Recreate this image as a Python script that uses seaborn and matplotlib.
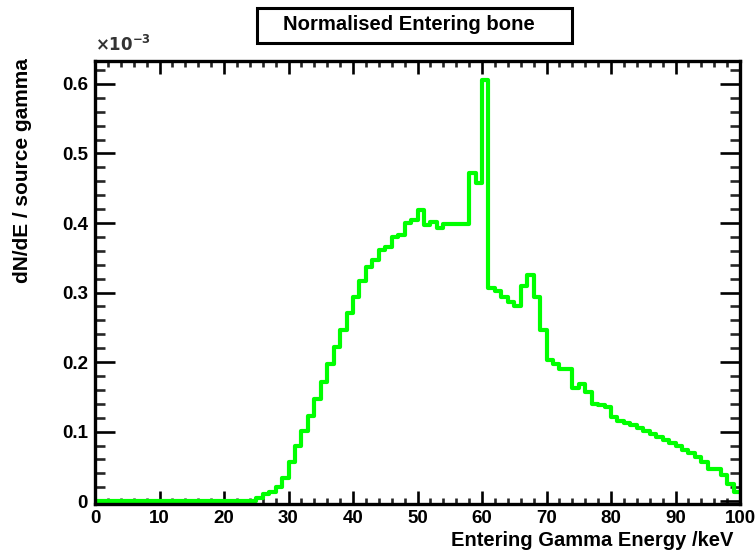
import numpy as np
import matplotlib
matplotlib.use("Agg")
import matplotlib.pyplot as plt
from matplotlib.patches import Rectangle
from matplotlib.ticker import MultipleLocator
import seaborn as sns

# Histogram of entering gamma energy, 1 keV bins from 0 to 100 keV (units of 1e-3)
bin_edges = list(range(0, 101))
counts = [0.0] * 25 + [
    0.005, 0.010, 0.013, 0.021, 0.033,              # 25-29
    0.056, 0.079, 0.101, 0.123, 0.147,              # 30-34
    0.171, 0.197, 0.222, 0.246, 0.270,              # 35-39
    0.293, 0.316, 0.337, 0.347, 0.361,              # 40-44
    0.366, 0.380, 0.383, 0.400, 0.404,              # 45-49
    0.419, 0.397, 0.401, 0.393, 0.399,              # 50-54
    0.399, 0.399, 0.399, 0.472, 0.458,              # 55-59
    0.606, 0.306, 0.302, 0.294, 0.287,              # 60-64
    0.280, 0.310, 0.325, 0.294, 0.246,              # 65-69
    0.203, 0.197, 0.190, 0.190, 0.163,              # 70-74
    0.168, 0.157, 0.140, 0.138, 0.136,              # 75-79
    0.121, 0.116, 0.112, 0.109, 0.106,              # 80-84
    0.101, 0.097, 0.093, 0.088, 0.084,              # 85-89
    0.079, 0.074, 0.070, 0.064, 0.056,              # 90-94
    0.047, 0.046, 0.037, 0.025, 0.013,              # 95-99
]
x_ticks = [0, 10, 20, 30, 40, 50, 60, 70, 80, 90, 100]
x_tick_labels = ["0", "10", "20", "30", "40", "50", "60", "70", "80", "90", "100"]
y_ticks = [0, 0.1, 0.2, 0.3, 0.4, 0.5, 0.6]
y_tick_labels = ["0", "0.1", "0.2", "0.3", "0.4", "0.5", "0.6"]

title = "Normalised Entering bone"
x_label = "Entering Gamma Energy /keV"
y_label = "dN/dE / source gamma"

sns.set_theme(style="ticks")
plt.rcParams["font.family"] = ["Liberation Sans", "DejaVu Sans"]
plt.rcParams["font.weight"] = "bold"

W, H = 755, 551
fig = plt.figure(figsize=(W / 100, H / 100), dpi=100)
fig.patch.set_facecolor("white")

left, right, top, bottom = 95, 740, 61, 504
ax = fig.add_axes([left / W, 1 - bottom / H, (right - left) / W, (bottom - top) / H])
ax.set_facecolor("white")

centers = np.array(bin_edges[:-1]) + 0.5
sns.histplot(x=centers, weights=counts, bins=bin_edges, element="step",
             fill=False, color="#00ff00", linewidth=3.0, ax=ax)

ax.set_xlim(0, 100)
ax.set_ylim(-0.004, 0.633)
ax.set_xlabel("")
ax.set_ylabel("")

ax.set_xticks(x_ticks)
ax.set_xticklabels(x_tick_labels)
ax.set_yticks(y_ticks)
ax.set_yticklabels(y_tick_labels)
ax.xaxis.set_minor_locator(MultipleLocator(2))
ax.yaxis.set_minor_locator(MultipleLocator(0.02))

for s in ax.spines.values():
    s.set_visible(True)
    s.set_linewidth(2.4)
    s.set_color("black")
    s.set_zorder(3)

ax.tick_params(axis="x", which="major", direction="in", length=9.5, width=1.9,
               top=True, bottom=True, labelsize=13.5, pad=4, colors="black")
ax.tick_params(axis="x", which="minor", direction="in", length=4.5, width=1.9,
               top=True, bottom=True)
ax.tick_params(axis="y", which="major", direction="in", length=14.5, width=1.9,
               left=True, right=True, labelsize=13.5, pad=5, colors="black")
ax.tick_params(axis="y", which="minor", direction="in", length=7.2, width=1.9,
               left=True, right=True)
for lab in ax.get_xticklabels() + ax.get_yticklabels():
    lab.set_fontweight("bold")

# Axis titles
fig.text(733 / W, 1 - 540 / H, x_label, ha="right", va="center",
         fontsize=14.5, fontweight="bold", color="black")
fig.text(22.5 / W, 1 - 58 / H, y_label, ha="center", va="top", rotation=90,
         fontsize=15, fontweight="bold", color="black")
fig.text(95 / W, 1 - 54 / H, r"$\times10^{-3}$", ha="left", va="bottom",
         fontsize=12, color="#333333")

# Title box
fig.add_artist(Rectangle((257 / W, 1 - 43 / H), 315 / W, 35 / H,
                         transform=fig.transFigure, fill=False,
                         edgecolor="black", linewidth=2.2))
fig.text(409 / W, 1 - 24 / H, title, ha="center", va="center",
         fontsize=14.6, fontweight="bold", color="black")

fig.savefig("out.png", dpi=100, facecolor="white")
